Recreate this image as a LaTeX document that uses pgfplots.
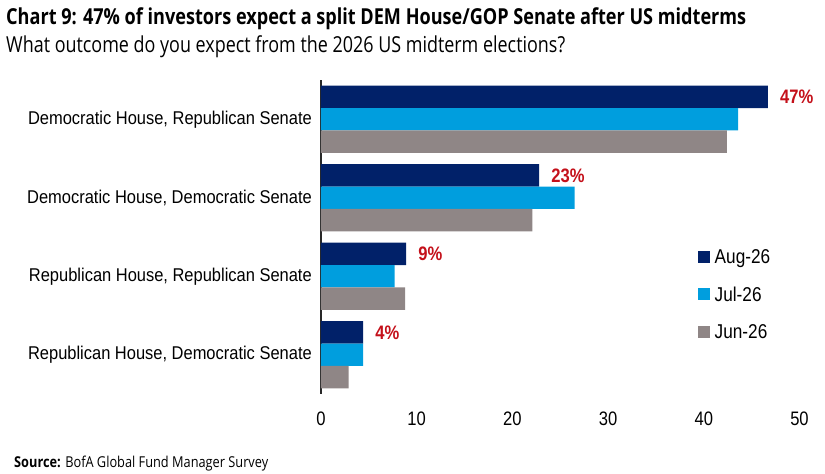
\documentclass[border=0pt]{standalone}
\usepackage{fontspec}
\usepackage{graphicx}
\usepackage{pgfplots}
\pgfplotsset{compat=1.18}
\setmainfont{Liberation Sans}
\newfontfamily\osans{Open Sans}
\definecolor{aug}{RGB}{1,33,105}
\definecolor{jul}{RGB}{0,158,222}
\definecolor{jun}{RGB}{143,134,134}
\definecolor{lab}{RGB}{196,16,26}
\definecolor{axl}{RGB}{40,40,40}
\newcommand{\catl}[1]{\scalebox{0.89}[1]{#1}}
\newcommand{\legl}[1]{\scalebox{0.86}[1]{#1}}
\begin{document}
\begin{tikzpicture}
\path[use as bounding box] (-321pt,-80pt) rectangle (504pt,394pt);
\node[anchor=base west, inner sep=0] at (-315pt,369pt) {\resizebox{740pt}{\height}{\osans\bfseries\fontsize{22}{26}\selectfont Chart 9: 47\% of investors expect a split DEM House/GOP Senate after US midterms}};
\node[anchor=base west, inner sep=0] at (-315pt,341pt) {\resizebox{559pt}{\height}{\osans\fontsize{22}{26}\selectfont What outcome do you expect from the 2026 US midterm elections?}};
\node[anchor=base west, inner sep=0] at (-307pt,-73pt) {\resizebox{254pt}{\height}{\osans\fontsize{15}{18}\selectfont\textbf{Source:} BofA Global Fund Manager Survey}};
\begin{axis}[
  at={(0pt,0pt)}, anchor=south west,
  scale only axis, width=478.5pt, height=314pt,
  xbar, bar width=0.285,
  xmin=0, xmax=50, ymin=-0.5, ymax=3.5,
  clip=false,
  axis x line*=bottom, axis y line*=left,
  x axis line style={draw=none},
  y axis line style={draw=axl, line width=1.5pt},
  xtick={0,10,20,30,40,50},
  xticklabel={\scalebox{0.85}[1]{\pgfmathprintnumber{\tick}}},
  ytick={0,1,2,3},
  yticklabels={{\catl{Republican House, Democratic Senate}},{\catl{Republican House, Republican Senate}},{\catl{Democratic House, Democratic Senate}},{\catl{Democratic House, Republican Senate}}},
  major tick length=0pt,
  /pgf/number format/assume math mode=true,
  xticklabel style={font=\fontsize{19.5}{22}\selectfont, text=black, anchor=north, inner sep=0pt, yshift=-18pt},
  yticklabel style={font=\fontsize{18.5}{22}\selectfont, text=black, anchor=east, inner sep=0pt, xshift=-9pt},
  legend image code/.code={\fill[#1, draw=none] (0pt,-4.5pt) rectangle (11.5pt,7.1pt);},
  legend style={at={(axis description cs:0.788,0.464)}, anchor=north west, draw=none, fill=none, inner sep=0pt,
    font=\fontsize{20}{22}\selectfont, row sep=18.5pt, column sep=5pt,
    nodes={inner sep=0pt, text height=15pt, text depth=4pt}},
  legend cell align=left,
]
\addplot[fill=aug, draw=none, bar shift=0.285,
  point meta=explicit symbolic, nodes near coords={\scalebox{0.85}[1]{\pgfplotspointmeta}},
  nodes near coords style={anchor=west, inner sep=0pt, xshift=12pt, text=lab, font=\bfseries\fontsize{19.5}{22}\selectfont}]
  coordinates {(4.4,0) [4\%] (8.9,1) [9\%] (22.8,2) [23\%] (46.7,3) [47\%]};
\addplot[fill=jul, draw=none, bar shift=0]
  coordinates {(4.4,0) (7.7,1) (26.5,2) (43.6,3)};
\addplot[fill=jun, draw=none, bar shift=-0.285]
  coordinates {(2.9,0) (8.8,1) (22.1,2) (42.4,3)};
\legend{\legl{Aug-26},\legl{Jul-26},\legl{Jun-26}}
\end{axis}
\end{tikzpicture}
\end{document}
